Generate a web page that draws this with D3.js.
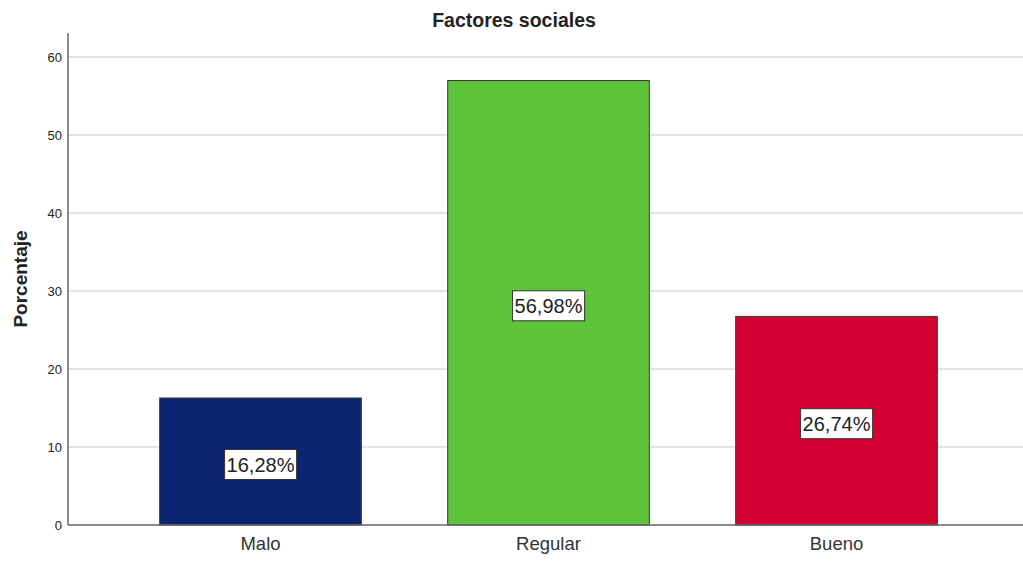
<!DOCTYPE html>
<html>
<head>
<meta charset="utf-8">
<script src="https://cdn.jsdelivr.net/npm/d3@7"></script>
<style>
  body { margin: 0; background: #fff; }
  text { font-family: Arial, "Liberation Sans", sans-serif; }
</style>
</head>
<body>
<svg id="chart" width="1023" height="561"></svg>
<script>
"use strict";

var categories = ["Malo", "Regular", "Bueno"];
var percentages = [16.28, 56.98, 26.74];
var barColours = ["#0b2570", "#5ec43a", "#d50032"];
var yTicks = [0, 10, 20, 30, 40, 50, 60];

var svg = d3.select("#chart");

var axisLeft = 68, axisRight = 1023;

var y = d3.scaleLinear().domain([0, 60]).range([525, 57]);

var x = d3.scaleBand()
    .domain(categories)
    .range([116.5, 980.5])
    .paddingInner(0.3)
    .paddingOuter(0.15);

//Gridlines
svg.append("g").selectAll("line")
    .data(yTicks.filter(function (d) { return d > 0; }))
    .enter().append("line")
    .attr("x1", axisLeft).attr("x2", axisRight)
    .attr("y1", function (d) { return y(d); })
    .attr("y2", function (d) { return y(d); })
    .attr("stroke", "#d9d9d9")
    .attr("stroke-width", 1.5);

//Bars
svg.append("g").selectAll("rect")
    .data(percentages)
    .enter().append("rect")
    .attr("x", function (d, i) { return x(categories[i]); })
    .attr("width", x.bandwidth())
    .attr("y", function (d) { return y(d); })
    .attr("height", function (d) { return y(0) - y(d); })
    .attr("fill", function (d, i) { return barColours[i]; })
    .attr("stroke", "#333")
    .attr("stroke-width", 1);

//Y axis
var yAxis = svg.append("g")
    .attr("transform", "translate(" + axisLeft + ",0)")
    .call(d3.axisLeft(y).tickValues(yTicks).tickSize(0).tickPadding(6));
yAxis.select(".domain").remove();
yAxis.selectAll("text")
    .attr("font-size", 13)
    .attr("fill", "#222");

svg.append("line")
    .attr("x1", axisLeft).attr("x2", axisLeft)
    .attr("y1", 33).attr("y2", y(0))
    .attr("stroke", "#8c8c8c").attr("stroke-width", 2);

svg.append("line")
    .attr("x1", axisLeft).attr("x2", axisRight)
    .attr("y1", y(0)).attr("y2", y(0))
    .attr("stroke", "#666").attr("stroke-width", 1.5);

//X axis labels
var xAxis = svg.append("g")
    .attr("transform", "translate(0," + y(0) + ")")
    .call(d3.axisBottom(x).tickSize(0).tickPadding(12));
xAxis.select(".domain").remove();
xAxis.selectAll("text")
    .attr("font-size", 18.5)
    .attr("fill", "#333");

//Value labels
var labels = svg.append("g").selectAll("g")
    .data(percentages)
    .enter().append("g")
    .attr("transform", function (d, i) {
        return "translate(" + (x(categories[i]) + x.bandwidth() / 2) + "," + (y(d / 2) + 3) + ")";
    });

labels.append("text")
    .attr("text-anchor", "middle")
    .attr("dy", "0.35em")
    .attr("font-size", 20)
    .attr("fill", "#222")
    .text(function (d) { return d.toFixed(2).replace(".", ",") + "%"; })
    .each(function () {
        var bb = this.getBBox();
        d3.select(this.parentNode).insert("rect", "text")
            .attr("x", bb.x - 2).attr("y", -15)
            .attr("width", bb.width + 4).attr("height", 30)
            .attr("fill", "#fff")
            .attr("stroke", "#333").attr("stroke-width", 1);
    });

//Title and axis title
svg.append("text")
    .attr("x", 514).attr("y", 27)
    .attr("text-anchor", "middle")
    .attr("font-size", 19.5).attr("font-weight", "bold")
    .attr("fill", "#222")
    .text("Factores sociales");

svg.append("text")
    .attr("transform", "translate(27,279) rotate(-90)")
    .attr("text-anchor", "middle")
    .attr("font-size", 19).attr("font-weight", "bold")
    .attr("fill", "#222")
    .text("Porcentaje");
</script>
</body>
</html>
